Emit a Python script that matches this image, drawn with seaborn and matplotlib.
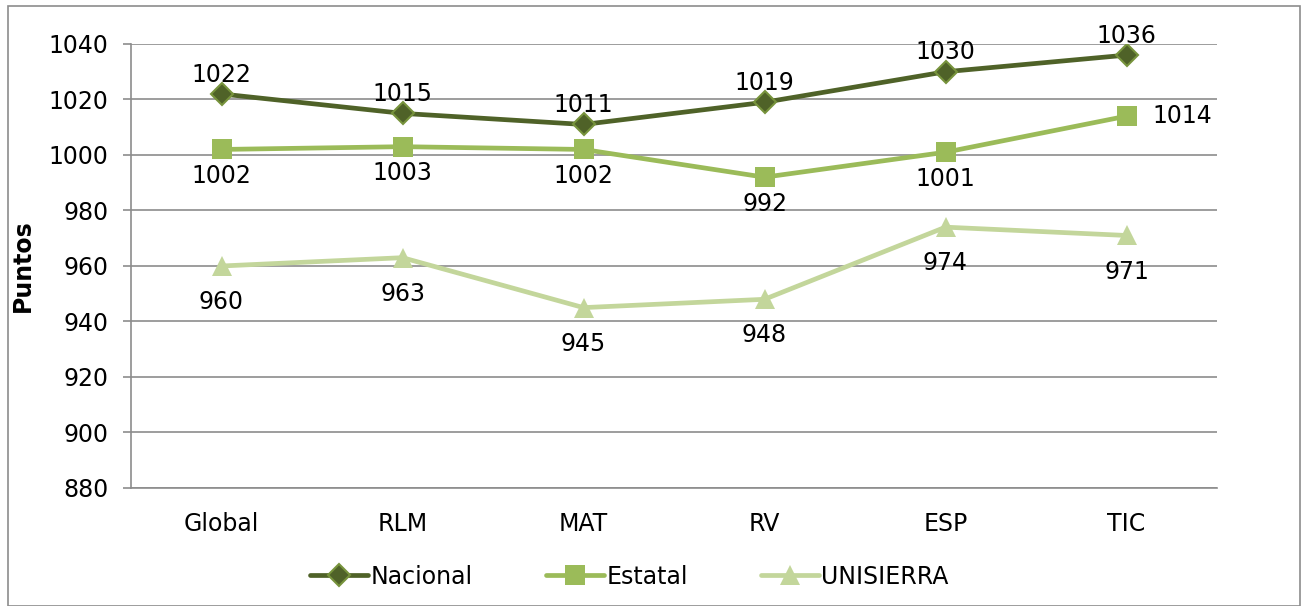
import numpy as np
import pandas as pd
import matplotlib
matplotlib.use("Agg")
import matplotlib.pyplot as plt
import seaborn as sns
from matplotlib.patches import Rectangle

categorias = ["Global", "RLM", "MAT", "RV", "ESP", "TIC"]
nacional = [1022, 1015, 1011, 1019, 1030, 1036]
estatal = [1002, 1003, 1002, 992, 1001, 1014]
unisierra = [960, 963, 945, 948, 974, 971]

series = {"Nacional": nacional, "Estatal": estatal, "UNISIERRA": unisierra}
df = pd.DataFrame({
    "categoria": categorias * 3,
    "serie": np.repeat(list(series.keys()), len(categorias)),
    "puntos": nacional + estatal + unisierra,
})

sns.set_theme(style="white", rc={"text.color": "black", "axes.labelcolor": "black",
                                 "xtick.color": "black", "ytick.color": "black"})
plt.rcParams['font.family'] = ['DejaVu Sans']

FS = 17
estilos = {
    "Nacional": dict(color="#4F6228", marker="D", ms=11, mec="#77933C", mew=1.5),
    "Estatal": dict(color="#9BBB59", marker="s", ms=14, mec="#9BBB59", mew=0),
    "UNISIERRA": dict(color="#C3D69B", marker="^", ms=14, mec="#C3D69B", mew=0),
}
# desplazamiento de las etiquetas (puntos)
offsets = {"Nacional": (0, 14), "Estatal": (0, -19), "UNISIERRA": (0, -26)}

W, H = 1302, 606
fig = plt.figure(figsize=(W / 100, H / 100), dpi=100)
ax = fig.add_axes([131 / W, (H - 488) / H, 1086 / W, 444 / H])

for nombre in series:
    sub = df[df["serie"] == nombre]
    st = estilos[nombre]
    sns.lineplot(data=sub, x="categoria", y="puntos", ax=ax, color=st["color"],
                 linewidth=3.4, marker=st["marker"], markersize=st["ms"],
                 markeredgecolor=st["mec"], markeredgewidth=st["mew"],
                 label=nombre, sort=False)
    for i, v in enumerate(sub["puntos"]):
        dx, dy = offsets[nombre]
        if nombre == "Estatal" and i == len(categorias) - 1:
            dx, dy = 40, 0
        ax.annotate(str(v), (i, v), xytext=(dx, dy), textcoords="offset points",
                    ha="center", va="center", fontsize=FS, color="black")

ax.set_xlim(-0.5, 5.5)
ax.set_ylim(880, 1040)
ax.set_yticks(np.arange(880, 1041, 20))
ax.set_xlabel("")
ax.set_ylabel("Puntos", fontsize=FS, fontweight="bold", labelpad=10)
ax.grid(axis="y", color="#8C8C8C", linewidth=1.2)
ax.grid(axis="x", visible=False)
ax.set_axisbelow(True)
for s in ["top", "right"]:
    ax.spines[s].set_visible(False)
for s in ["left", "bottom"]:
    ax.spines[s].set_color("#8C8C8C")
    ax.spines[s].set_linewidth(1.2)
ax.tick_params(axis="y", length=6, color="#8C8C8C", width=1.2, pad=10, labelsize=FS, left=True)
ax.tick_params(axis="x", length=0, pad=17, labelsize=FS)

ax.legend(loc="upper center", bbox_to_anchor=(0.459, -0.125), ncol=3, frameon=False,
          fontsize=FS, handlelength=2.45, handletextpad=0.1, columnspacing=3.1)

fig.patches.append(Rectangle((8 / W, 0), (1300 - 8) / W, (H - 6) / H,
                             transform=fig.transFigure, fill=False,
                             edgecolor="#8C8C8C", linewidth=1.2))

fig.savefig("out.png", dpi=100, facecolor="white")
